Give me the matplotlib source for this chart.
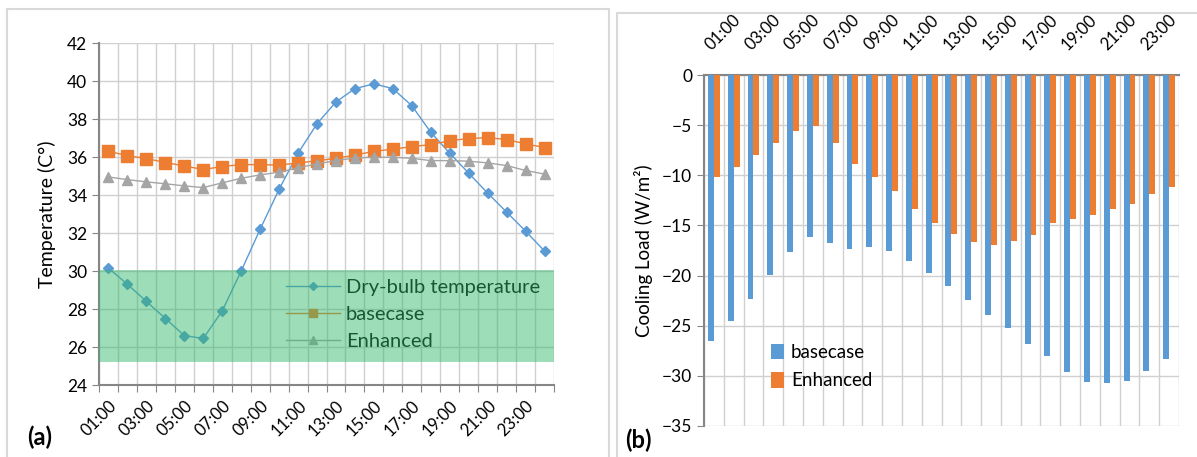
import numpy as np
import matplotlib
matplotlib.use("Agg")
import matplotlib.pyplot as plt
from matplotlib.patches import Rectangle

plt.rcParams['font.family'] = ['Lato', 'DejaVu Sans']

hours = ["%02d:00" % h for h in range(1, 25)]

dry_bulb = [30.15, 29.3, 28.4, 27.5, 26.6, 26.45, 27.9, 30.0, 32.2, 34.3, 36.2, 37.75,
            38.9, 39.6, 39.85, 39.6, 38.7, 37.3, 36.2, 35.15, 34.1, 33.1, 32.1, 31.05]
base_temp = [36.3, 36.07, 35.92, 35.71, 35.53, 35.34, 35.5, 35.6, 35.6, 35.57, 35.69, 35.8,
             35.93, 36.1, 36.3, 36.41, 36.55, 36.65, 36.86, 36.97, 37.02, 36.92, 36.69, 36.5]
enh_temp = [34.95, 34.81, 34.69, 34.59, 34.48, 34.39, 34.64, 34.88, 35.06, 35.2, 35.43, 35.64,
            35.81, 35.95, 35.99, 35.99, 35.93, 35.81, 35.81, 35.78, 35.69, 35.55, 35.29, 35.1]

base_load = [-26.5, -24.5, -22.3, -19.95, -17.65, -16.2, -16.75, -17.4, -17.2, -17.5, -18.55, -19.7,
             -21.0, -22.4, -23.9, -25.25, -26.8, -28.0, -29.6, -30.65, -30.75, -30.55, -29.55, -28.3]
enh_load = [-10.2, -9.2, -8.0, -6.8, -5.6, -5.05, -6.75, -8.9, -10.2, -11.6, -13.4, -14.8,
            -15.9, -16.65, -16.95, -16.6, -15.95, -14.8, -14.4, -14.0, -13.35, -12.85, -11.9, -11.15]

blue = '#5B9BD5'
orange = '#ED7D31'
gray = '#A5A5A5'
grid_c = '#D0D0D0'
spine_c = '#868686'

fig = plt.figure(figsize=(11.97, 4.57), dpi=100)
W, H = 1197, 457

def fx(px):
    return px / W

def fy(py):
    return 1 - py / H

# panel frames
fig.patches.append(Rectangle((fx(7), fy(470)), fx(602), fy(9) - fy(470), transform=fig.transFigure,
                             fill=False, edgecolor='#D9D9D9', linewidth=1.5))
fig.patches.append(Rectangle((fx(617), fy(470)), fx(600), fy(13) - fy(470), transform=fig.transFigure,
                             fill=False, edgecolor='#D9D9D9', linewidth=1.5))

x = np.arange(24)

# ---- left panel: temperatures
ax1 = fig.add_axes([fx(99), fy(385), fx(554 - 99), fy(43) - fy(385)])
ax1.plot(x, dry_bulb, color=blue, lw=1, marker='D', ms=5, label='Dry-bulb temperature', zorder=3)
ax1.plot(x, base_temp, color=orange, lw=1, marker='s', ms=8, label='basecase', zorder=3)
ax1.plot(x, enh_temp, color=gray, lw=1, marker='^', ms=7, label='Enhanced', zorder=3)
ax1.set_xlim(-0.5, 23.5)
ax1.set_ylim(24, 42)
ax1.set_yticks(range(24, 43, 2))
ax1.set_xticks(np.arange(-0.5, 24, 1), minor=False)
ax1.set_xticklabels([])
ax1.set_xticks(x[::2], minor=True)
ax1.set_xticklabels(hours[::2], minor=True, rotation=45, ha='right', rotation_mode='anchor', fontsize=12)
ax1.tick_params(axis='x', which='minor', length=0, pad=9)
ax1.tick_params(axis='x', which='major', length=5, color=spine_c, direction='out')
ax1.tick_params(axis='y', length=5, color=spine_c, labelsize=12.5)
ax1.grid(True, which='major', color=grid_c, lw=1)
ax1.set_axisbelow(True)
for s in ['top', 'right']:
    ax1.spines[s].set_visible(False)
for s in ['left', 'bottom']:
    ax1.spines[s].set_color(spine_c)
    ax1.spines[s].set_linewidth(1.5)
ax1.set_ylabel('Temperature (C°)', fontsize=14, labelpad=8)
leg1 = ax1.legend(loc='upper left', bbox_to_anchor=(0.41, 0.31), frameon=False, fontsize=14.5,
                  handlelength=2.7, handletextpad=0.3, labelspacing=0.5, markerscale=0.8,
                  borderpad=0, borderaxespad=0)
leg1.set_zorder(4)
ax1.add_patch(Rectangle((-0.5, 25.2), 24, 4.85, facecolor=(0.2, 0.72, 0.42), alpha=0.48,
                        edgecolor='none', zorder=5))
fig.text(fx(27), fy(437), '(a)', fontsize=17, fontweight='bold', va='center', ha='left')

# ---- right panel: cooling load
ax2 = fig.add_axes([fx(704), fy(426), fx(1179 - 704), fy(75) - fy(426)])
bw = 0.3
ax2.bar(x - bw / 2, base_load, width=bw, color=blue, label='basecase', zorder=3)
ax2.bar(x + bw / 2, enh_load, width=bw, color=orange, label='Enhanced', zorder=3)
ax2.set_xlim(-0.5, 23.5)
ax2.set_ylim(-35, 0)
ax2.set_yticks(range(-35, 1, 5))
ax2.xaxis.tick_top()
ax2.set_xticks(np.arange(-0.5, 24, 1))
ax2.set_xticklabels([])
ax2.set_xticks(x[::2], minor=True)
ax2.set_xticklabels(hours[::2], minor=True, rotation=45, ha='left', rotation_mode='anchor', fontsize=12)
ax2.tick_params(axis='x', which='minor', length=0, pad=16, top=True, bottom=False)
ax2.tick_params(axis='x', which='major', length=0)
ax2.tick_params(axis='y', length=5, color=spine_c, labelsize=12.5)
ax2.grid(True, which='major', color=grid_c, lw=1)
ax2.set_axisbelow(True)
for s in ['bottom', 'right']:
    ax2.spines[s].set_visible(False)
for s in ['left', 'top']:
    ax2.spines[s].set_color(spine_c)
    ax2.spines[s].set_linewidth(1.5)
ax2.set_ylabel('Cooling Load (W/m²)', fontsize=13.5, labelpad=6)
ax2.legend(loc='upper left', bbox_to_anchor=(0.14, 0.235), frameon=False, fontsize=13.5,
           handlelength=0.7, handleheight=0.9, handletextpad=0.4, labelspacing=0.6,
           borderpad=0, borderaxespad=0)
fig.text(fx(625), fy(440), '(b)', fontsize=17, fontweight='bold', va='center', ha='left')

fig.savefig('out.png', dpi=100)
